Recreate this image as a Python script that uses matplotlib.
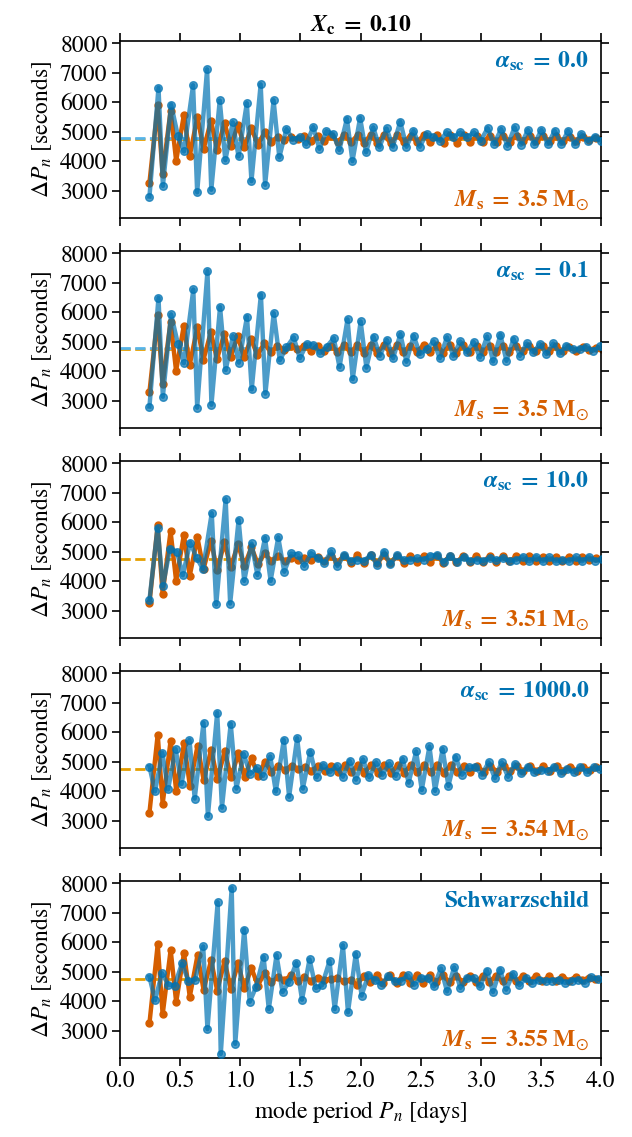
import numpy as np
import matplotlib
matplotlib.use("Agg")
import matplotlib.pyplot as plt

plt.rcParams['font.family'] = ['STIXGeneral', 'DejaVu Serif']
plt.rcParams['mathtext.fontset'] = 'stix'

# first mode period of each series [days]
p_start = 0.245

# period spacings Delta P_n [s], blue = model with given alpha_sc, orange = reference model
blue_a00 = [2800, 6490, 3160, 5920, 4860, 4330, 6580, 2940, 7120, 3030, 6060, 4030, 5320, 4160, 5970, 3320,
            6610, 3200, 6070, 4130, 5090, 4730, 4830, 4570, 5160, 4420, 5020, 4920, 4380, 5440, 4000, 5470,
            4300, 5150, 4470, 5110, 4490, 5340, 4490, 5030, 4490, 4920, 4830, 4690, 4980, 4810, 4980, 4810,
            4980, 4690, 5120, 4580, 5090, 4520, 5150, 4560, 5060, 4580, 5060, 4580, 5030, 4580, 5030, 4580,
            4920, 4690, 4830, 4690, 4800]
blue_a01 = [2800, 6490, 3130, 5930, 4920, 4270, 6775, 2760, 7400, 2860, 6180, 4040, 5190, 4290, 5850, 3380,
            6600, 3240, 5970, 4370, 4810, 5150, 4440, 4920, 4890, 4610, 4830, 5120, 4140, 5760, 3730, 5690,
            4120, 5170, 4520, 5060, 4440, 5260, 4320, 5200, 4580, 4750, 5010, 4440, 5150, 4520, 5010, 4640,
            4990, 4470, 5180, 4330, 5240, 4350, 5100, 4520, 4940, 4640, 4920, 4580, 4940, 4600, 4870, 4740,
            4740, 4830, 4690, 4840, 4760]
blue_a10 = [3360, 5810, 3830, 5100, 5000, 4200, 5310, 4780, 4410, 6310, 3210, 6780, 3240, 6080, 4010, 5280,
            4210, 5470, 4010, 5490, 4320, 4940, 4900, 4520, 4950, 4780, 4620, 5010, 4510, 4900, 4690, 4730,
            4690, 4890, 4560, 5000, 4580, 4890, 4720, 4720, 4770, 4720, 4860, 4890, 4640, 4860, 4640, 4830,
            4690, 4720, 4690, 4780, 4720, 4780, 4690, 4720, 4830, 4670, 4830, 4670, 4810, 4670, 4720, 4670,
            4810, 4670, 4830, 4690, 4760]
blue_a1000 = [4830, 3990, 5300, 4060, 5430, 4240, 5740, 3750, 6320, 3160, 6660, 3440, 6290, 4090, 5260, 4580,
              4780, 4520, 5180, 3990, 5740, 3810, 5800, 4090, 5340, 4470, 4890, 4640, 4860, 4490, 5030, 4390,
              5080, 4470, 4980, 4560, 4940, 4520, 5090, 4290, 5350, 4040, 5520, 4010, 5430, 4180, 5170, 4560,
              4810, 4830, 4560, 4980, 4440, 4980, 4490, 4920, 4600, 4830, 4640, 4720, 4690, 4830, 4600, 4750,
              4640, 4830, 4640, 4810, 4760]
blue_schw = [4820, 4030, 4950, 4560, 4530, 5280, 4680, 4720, 5860, 3050, 7360, 2210, 7840, 2550, 6430, 3980,
             4470, 5500, 3730, 5560, 4310, 4650, 5300, 4050, 5420, 4450, 4540, 5360, 3730, 5900, 3620, 5610,
             4190, 4900, 4730, 4560, 4850, 4680, 4700, 4880, 4560, 4790, 4790, 4500, 5110, 4330, 5150, 4450,
             4790, 4790, 4500, 5040, 4310, 5070, 4390, 4930, 4540, 4790, 4620, 4730, 4680, 4700, 4730, 4620,
             4700, 4730, 4620, 4810, 4760]

orange_350 = [3270, 5890, 3560, 5720, 4010, 5580, 4180, 5510, 4410, 5370, 4380, 5310, 4500, 5240, 4470, 5120,
              4560, 4980, 4640, 4830, 4720, 4810, 4740, 4860, 4700, 4850, 4680, 4870, 4660, 4880, 4640, 4880,
              4630, 4890, 4620, 4890, 4620, 4880, 4640, 4870, 4650, 4880, 4640, 4880, 4630, 4890, 4630, 4880,
              4640, 4870, 4650, 4870, 4650, 4860, 4660, 4860, 4670, 4850, 4680, 4850, 4680, 4840, 4690, 4830,
              4700, 4820, 4710, 4800, 4760]
orange_350b = [3290, 5890, 3560, 5680, 4010, 5550, 4210, 5490, 4390, 5320, 4410, 5260, 4470, 5200, 4470, 5090,
               4540, 4950, 4640, 4860, 4730, 4860, 4750, 4850, 4700, 4860, 4680, 4870, 4660, 4880, 4640, 4880,
               4630, 4890, 4620, 4890, 4620, 4880, 4640, 4870, 4650, 4880, 4640, 4880, 4630, 4890, 4630, 4880,
               4640, 4870, 4650, 4870, 4650, 4860, 4660, 4860, 4670, 4850, 4680, 4850, 4680, 4840, 4690, 4830,
               4700, 4820, 4710, 4800, 4760]
orange_351 = [3270, 5890, 3580, 5690, 4010, 5580, 4180, 5490, 4410, 5380, 4370, 5320, 4470, 5260, 4520, 5150,
              4580, 4940, 4690, 4860, 4690, 4800, 4720, 4790, 4710, 4820, 4680, 4850, 4650, 4870, 4620, 4880,
              4610, 4890, 4610, 4880, 4620, 4870, 4630, 4870, 4640, 4860, 4640, 4870, 4630, 4870, 4640, 4860,
              4650, 4860, 4660, 4850, 4660, 4850, 4670, 4840, 4680, 4840, 4680, 4830, 4690, 4830, 4700, 4820,
              4700, 4820, 4710, 4800, 4760]
orange_354 = [3270, 5920, 3580, 5720, 4010, 5630, 4180, 5550, 4370, 5410, 4410, 5350, 4470, 5280, 4470, 5110,
              4520, 5000, 4660, 4860, 4720, 4860, 4750, 4820, 4700, 4850, 4680, 4870, 4660, 4880, 4640, 4890,
              4630, 4900, 4620, 4900, 4620, 4890, 4630, 4880, 4640, 4880, 4640, 4890, 4630, 4880, 4640, 4870,
              4650, 4870, 4650, 4860, 4660, 4860, 4670, 4850, 4680, 4850, 4680, 4840, 4690, 4840, 4700, 4830,
              4700, 4820, 4710, 4810, 4760]
orange_355 = [3250, 5930, 3550, 5740, 3970, 5630, 4150, 5560, 4380, 5390, 4360, 5360, 4410, 5290, 4430, 5130,
              4530, 4960, 4650, 4810, 4710, 4880, 4680, 4810, 4700, 4790, 4730, 4760, 4770, 4680, 4720, 4560,
              4850, 4640, 4880, 4630, 4890, 4620, 4900, 4620, 4890, 4630, 4880, 4640, 4880, 4640, 4870, 4650,
              4870, 4650, 4860, 4660, 4860, 4670, 4860, 4670, 4850, 4680, 4850, 4680, 4840, 4690, 4830, 4700,
              4820, 4710, 4800, 4760, 4760]

# asymptotic spacing Pi_0/sqrt(l(l+1)) [s]
pi0_orange = [4745, 4745, 4755, 4765, 4755]
pi0_blue = [4800, 4800, None, None, None]

blue_series = [blue_a00, blue_a01, blue_a10, blue_a1000, blue_schw]
orange_series = [orange_350, orange_350b, orange_351, orange_354, orange_355]
alpha_labels = ['0.0', '0.1', '10.0', '1000.0', None]
mass_labels = ['3.5', '3.5', '3.51', '3.54', '3.55']

BLUE = '#0072B2'
ORANGE = '#D55E00'
YELLOW = '#E69F00'
SKY = '#56B4E9'


def periods(dp):
    # P_n = P_{n-1} + Delta P_n
    dp = np.array(dp, dtype=float)
    return p_start + np.concatenate([[0.0], np.cumsum(dp[1:])]) / 86400.0


W, H = 632, 1137
fig = plt.figure(figsize=(W / 100, H / 100), dpi=100)

left, right = 120, 601
top0, ph, step = 41, 177, 210
xt = np.arange(0, 4.01, 0.5)
EQ = r'\;\mathbf{=}\;'

for i in range(5):
    ax = fig.add_axes([left / W, 1 - (top0 + i * step + ph) / H, (right - left) / W, ph / H])
    ax.axhline(pi0_orange[i], color=YELLOW, ls='--', lw=2.0, zorder=1)
    if pi0_blue[i] is not None:
        ax.axhline(pi0_blue[i], color=SKY, ls='--', lw=2.0, zorder=1)
    yo = orange_series[i]
    ax.plot(periods(yo), yo, 'o-', color=ORANGE, lw=3.2, ms=5, zorder=2)
    yb = blue_series[i]
    ax.plot(periods(yb), yb, 'o-', color=BLUE, lw=3.2, ms=5.5, alpha=0.7, zorder=3)

    ax.set_xlim(0, 4.0)
    ax.set_ylim(2070, 8080)
    ax.set_xticks(xt)
    ax.set_yticks([3000, 4000, 5000, 6000, 7000, 8000])
    ax.tick_params(direction='out', top=True, right=True, length=6, width=1.2, labelsize=17, pad=3)
    for s in ax.spines.values():
        s.set_linewidth(1.2)
    ax.set_ylabel(r'$\Delta P_n$ [seconds]', fontsize=17, labelpad=4)
    if i < 4:
        ax.tick_params(labelbottom=False)
    else:
        ax.set_xticklabels(['%.1f' % v for v in xt])
        ax.set_xlabel(r'mode period $P_n$ [days]', fontsize=17, labelpad=5)

    if alpha_labels[i] is None:
        lab = 'Schwarzschild'
    else:
        lab = r'$\mathbfit{\alpha}_{\mathbf{sc}}' + EQ + r'\mathbf{' + alpha_labels[i] + '}$'
    ax.text(0.975, 0.885, lab, transform=ax.transAxes, ha='right', va='center',
            color=BLUE, fontsize=17, fontweight='bold')
    ax.text(0.975, 0.03,
            r'$\mathbfit{M}_{\mathbf{s}}' + EQ + r'\mathbf{' + mass_labels[i] + r'}\ \mathbf{M}_{\odot}$',
            transform=ax.transAxes, ha='right', va='bottom', color=ORANGE, fontsize=17)
    if i == 0:
        ax.set_title(r'$\mathbfit{X}_{\mathbf{c}}' + EQ + r'\mathbf{0.10}$', fontsize=17, pad=7)

fig.savefig('out.png', dpi=100)
